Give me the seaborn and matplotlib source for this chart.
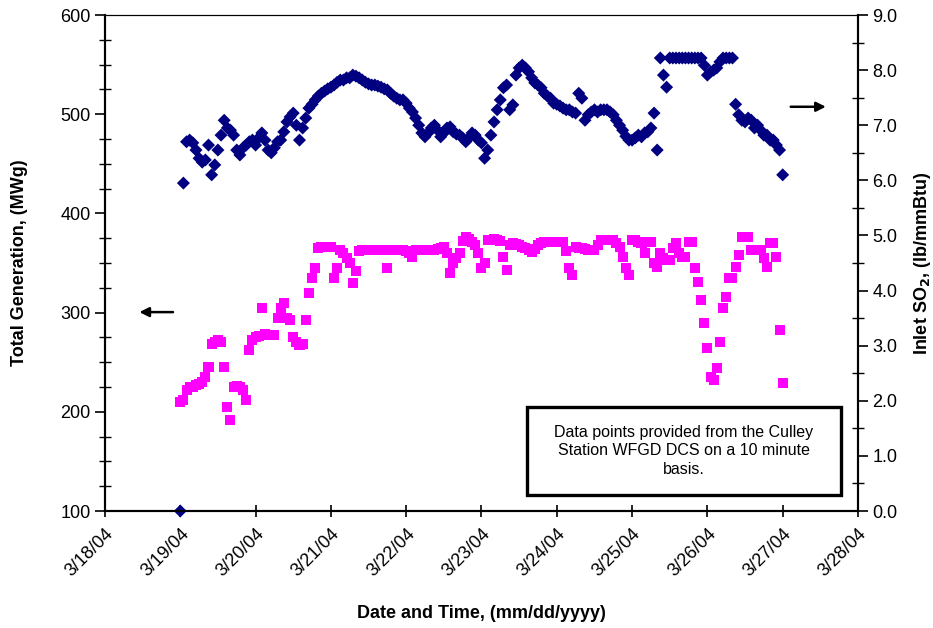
import numpy as np
import pandas as pd
import seaborn as sns
import matplotlib.pyplot as plt
import matplotlib.dates as mdates
from matplotlib.ticker import MultipleLocator
from matplotlib.patches import Rectangle

# hourly readings starting 3/19/04 00:00
hours = np.arange(0, 193)

generation = [210, 212, 222, 225, 225, 227, 228, 230, 235, 245,
              268, 270, 272, 270, 245, 205, 192, 225, 226, 225,
              222, 212, 262, 272, 275, 276, 305, 278, 277, 277,
              277, 295, 305, 310, 295, 293, 275, 270, 267, 268,
              293, 320, 335, 345, 365, 366, 366, 366, 366, 335,
              345, 363, 360, 355, 350, 330, 342, 362, 363, 363,
              363, 363, 363, 363, 363, 363, 345, 363, 363, 363,
              363, 363, 362, 360, 356, 363, 363, 363, 363, 363,
              363, 363, 364, 365, 366, 360, 340, 350, 355, 360,
              372, 376, 374, 371, 368, 360, 345, 350, 373, 373,
              374, 373, 372, 356, 343, 368, 370, 369, 368, 366,
              365, 363, 361, 364, 368, 370, 371, 371, 371, 371,
              371, 371, 371, 362, 345, 338, 366, 365, 365, 364,
              363, 363, 363, 368, 373, 373, 373, 373, 373, 370,
              366, 356, 345, 338, 373, 373, 371, 370, 360, 371,
              371, 350, 346, 360, 355, 353, 353, 365, 370, 360,
              356, 356, 371, 371, 345, 331, 313, 290, 264, 235,
              232, 244, 270, 305, 316, 335, 335, 346, 358, 376,
              376, 376, 363, 363, 363, 363, 355, 346, 370, 370,
              356, 282, 229]

so2 = [0.00, 5.95, 6.70, 6.73, 6.68, 6.55, 6.40, 6.33, 6.37, 6.64,
       6.10, 6.28, 6.55, 6.82, 7.09, 6.95, 6.91, 6.82, 6.55, 6.46,
       6.59, 6.64, 6.70, 6.73, 6.64, 6.77, 6.86, 6.73, 6.55, 6.50,
       6.59, 6.70, 6.73, 6.88, 7.06, 7.15, 7.22, 7.00, 6.73, 6.95,
       7.13, 7.31, 7.38, 7.46, 7.53, 7.58, 7.62, 7.66, 7.69, 7.73,
       7.78, 7.82, 7.82, 7.86, 7.86, 7.91, 7.89, 7.86, 7.82, 7.78,
       7.75, 7.73, 7.73, 7.71, 7.69, 7.66, 7.64, 7.58, 7.53, 7.49,
       7.46, 7.46, 7.40, 7.31, 7.24, 7.13, 7.00, 6.86, 6.79, 6.86,
       6.95, 7.00, 6.91, 6.79, 6.86, 6.95, 6.97, 6.88, 6.84, 6.82,
       6.77, 6.70, 6.77, 6.86, 6.82, 6.73, 6.68, 6.40, 6.55, 6.82,
       7.06, 7.28, 7.46, 7.68, 7.73, 7.28, 7.37, 7.91, 8.04, 8.09,
       8.04, 7.97, 7.86, 7.77, 7.73, 7.68, 7.58, 7.53, 7.49, 7.40,
       7.38, 7.35, 7.31, 7.28, 7.28, 7.24, 7.22, 7.58, 7.49, 7.09,
       7.19, 7.24, 7.28, 7.24, 7.28, 7.28, 7.28, 7.24, 7.19, 7.09,
       7.00, 6.91, 6.80, 6.73, 6.73, 6.77, 6.82, 6.79, 6.86, 6.88,
       6.95, 7.22, 6.55, 8.22, 7.91, 7.69, 8.22, 8.22, 8.22, 8.22,
       8.22, 8.22, 8.22, 8.22, 8.22, 8.22, 8.22, 8.09, 7.91, 7.97,
       8.00, 8.04, 8.15, 8.22, 8.22, 8.22, 8.22, 7.38, 7.19, 7.09,
       7.06, 7.13, 7.09, 6.95, 7.00, 6.91, 6.82, 6.82, 6.73, 6.73,
       6.64, 6.55, 6.10]

note = "Data points provided from the Culley\nStation WFGD DCS on a 10 minute\nbasis."

sns.set_style('ticks')
plt.rcParams['font.family'] = ['Liberation Sans', 'DejaVu Sans']
plt.rcParams.update({'text.color': 'black', 'axes.labelcolor': 'black',
                     'xtick.color': 'black', 'ytick.color': 'black',
                     'axes.edgecolor': 'black'})

df = pd.DataFrame({
    'time': pd.Timestamp('2004-03-19') + pd.to_timedelta(hours, unit='h'),
    'gen': generation,
    'so2': so2,
})

fig = plt.figure(figsize=(9.33, 6.28), dpi=100)
ax = fig.add_axes([0.1125, 0.1863, 0.8071, 0.7898])
ax2 = ax.twinx()

sns.scatterplot(data=df, x='time', y='gen', ax=ax, marker='s', color='#FF00FF',
                s=52, edgecolor='none', linewidth=0)
sns.scatterplot(data=df, x='time', y='so2', ax=ax2, marker='D', color='#000080',
                s=44, edgecolor='none', linewidth=0, clip_on=False)

ax.set_xlim(pd.Timestamp('2004-03-18'), pd.Timestamp('2004-03-28'))
ax.set_ylim(100, 600)
ax2.set_ylim(0, 9)

ax.xaxis.set_major_locator(mdates.DayLocator())
ax.xaxis.set_major_formatter(mdates.DateFormatter('%-m/%d/%y'))
ax.yaxis.set_major_locator(MultipleLocator(100))
ax.yaxis.set_minor_locator(MultipleLocator(25))
ax2.yaxis.set_major_locator(MultipleLocator(1))
ax2.yaxis.set_minor_locator(MultipleLocator(0.5))
ax2.yaxis.set_major_formatter(plt.FormatStrFormatter('%.1f'))

ax.tick_params(axis='x', direction='inout', length=9, width=1.2, labelsize=13, pad=6)
for lab in ax.get_xticklabels():
    lab.set_rotation(45)
    lab.set_ha('right')
    lab.set_rotation_mode('anchor')
ax.tick_params(axis='y', which='major', direction='out', length=7, width=1.2, labelsize=13)
ax.tick_params(axis='y', which='minor', direction='inout', length=9, width=1.0)
ax2.tick_params(axis='y', which='major', direction='out', length=7, width=1.2, labelsize=13)
ax2.tick_params(axis='y', which='minor', direction='inout', length=9, width=1.0)

for a in (ax, ax2):
    a.spines['top'].set_linewidth(0.8)
    a.spines['left'].set_linewidth(1.5)
    a.spines['right'].set_linewidth(1.5)
    a.spines['bottom'].set_linewidth(1.5)

ax.set_xlabel('Date and Time, (mm/dd/yyyy)', fontsize=13, fontweight='bold', labelpad=18)
ax.set_ylabel('Total Generation, (MWg)', fontsize=13, fontweight='bold', labelpad=23)
ax2.set_ylabel('Inlet SO$_\\mathbf{2}$, (lb/mmBtu)', fontsize=13, fontweight='bold', labelpad=10)

# arrows showing which axis each series belongs to
ax.annotate('', xy=(0.042, 0.401), xytext=(0.094, 0.401), xycoords='axes fraction',
            arrowprops=dict(arrowstyle='-|>', color='black', lw=1.8, mutation_scale=14))
ax.annotate('', xy=(0.961, 0.815), xytext=(0.907, 0.815), xycoords='axes fraction',
            arrowprops=dict(arrowstyle='-|>', color='black', lw=1.8, mutation_scale=14))

ax2.add_patch(Rectangle((0.560, 0.032), 0.418, 0.177, transform=ax2.transAxes,
                        facecolor='white', edgecolor='black', lw=2.4, zorder=5))
ax2.text(0.769, 0.121, note, transform=ax2.transAxes, ha='center', va='center',
         fontsize=11.5, linespacing=1.3, zorder=6)

fig.savefig('out.png', dpi=100)
